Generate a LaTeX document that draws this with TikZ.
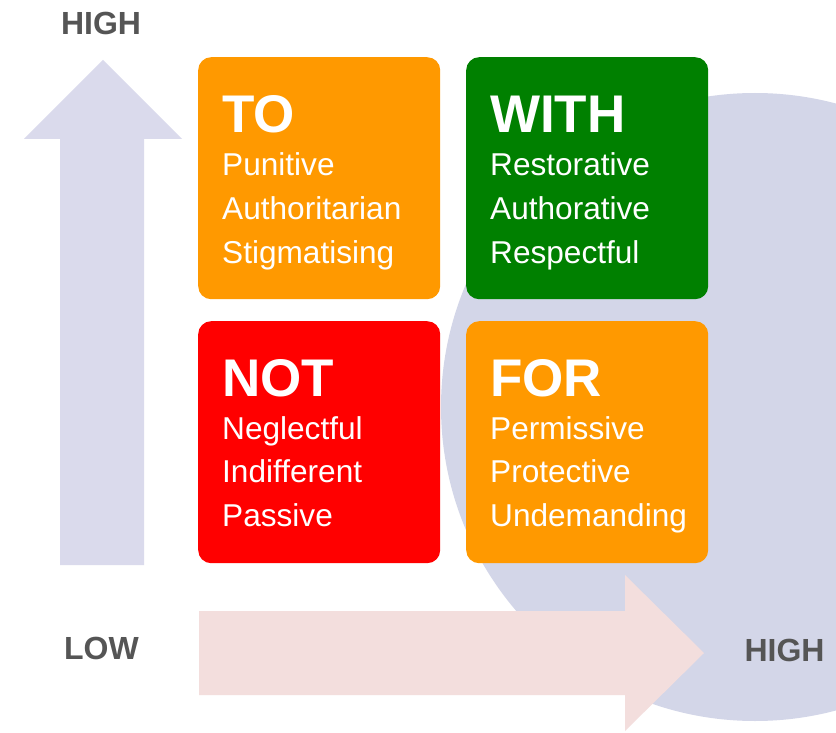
\documentclass[tikz,border=0pt]{standalone}
\usepackage{fontspec}
\setmainfont{Liberation Sans}
\begin{document}
\definecolor{boxorange}{HTML}{FF9900}
\definecolor{boxgreen}{HTML}{008000}
\definecolor{boxred}{HTML}{FF0000}
\definecolor{axisup}{HTML}{DADAEC}
\definecolor{axisright}{HTML}{F3DEDD}
\definecolor{disc}{HTML}{D3D6E8}
\definecolor{labelgray}{HTML}{555555}
\begin{tikzpicture}[x=1pt,y=-1pt,
  quad/.style={rounded corners=13pt, minimum width=242pt, minimum height=242pt,
    inner sep=0pt, anchor=north west},
  head/.style={anchor=base west, text=white, font=\fontsize{53}{53}\selectfont\bfseries, inner sep=0pt},
  item/.style={anchor=base west, text=white, font=\fontsize{31.6}{31.6}\selectfont, inner sep=0pt},
  axislabel/.style={anchor=base, text=labelgray, font=\fontsize{32}{32}\selectfont\bfseries, inner sep=0pt}]
\useasboundingbox (0,0) rectangle (836,733);
\clip (0,0) rectangle (836,733);
\fill[white] (0,0) rectangle (836,733);

% background disc on the right
\fill[disc] (755,407) circle[radius=314];

% vertical axis arrow
\fill[axisup] (60,565) -- (60,139) -- (24,139) -- (103,60) -- (182,139) -- (144,139) -- (144,565) -- cycle;
% horizontal axis arrow
\fill[axisright] (199,611) -- (625,611) -- (625,575) -- (704,653) -- (625,731) -- (625,695) -- (199,695) -- cycle;

% axis labels
\node[axislabel] (hightop) at (101,35) {HIGH};
\node[axislabel] (low) at (101.5,659) {LOW};
\node[axislabel] (highright) at (784.5,661) {HIGH};

% quadrants
\node[quad, fill=boxorange] (to) at (198,57) {};
\node[quad, fill=boxgreen] (with) at (466,57) {};
\node[quad, fill=boxred] (not) at (198,321) {};
\node[quad, fill=boxorange] (for) at (466,321) {};

% quadrant texts
\node[head] (toh) at (222,133) {TO};
\node[item] (to1) at (222,176) {Punitive};
\node[item] (to2) at (222,219.5) {Authoritarian};
\node[item] (to3) at (222,263) {Stigmatising};

\node[head] (withh) at (490,133) {WITH};
\node[item] (with1) at (490,176) {Restorative};
\node[item] (with2) at (490,219.5) {Authorative};
\node[item] (with3) at (490,263) {Respectful};

\node[head] (noth) at (222,396) {NOT};
\node[item] (not1) at (222,439) {Neglectful};
\node[item] (not2) at (222,482.5) {Indifferent};
\node[item] (not3) at (222,526) {Passive};

\node[head] (forh) at (490,396) {FOR};
\node[item] (for1) at (490,439) {Permissive};
\node[item] (for2) at (490,482.5) {Protective};
\node[item] (for3) at (490,526) {Undemanding};
\end{tikzpicture}
\end{document}
